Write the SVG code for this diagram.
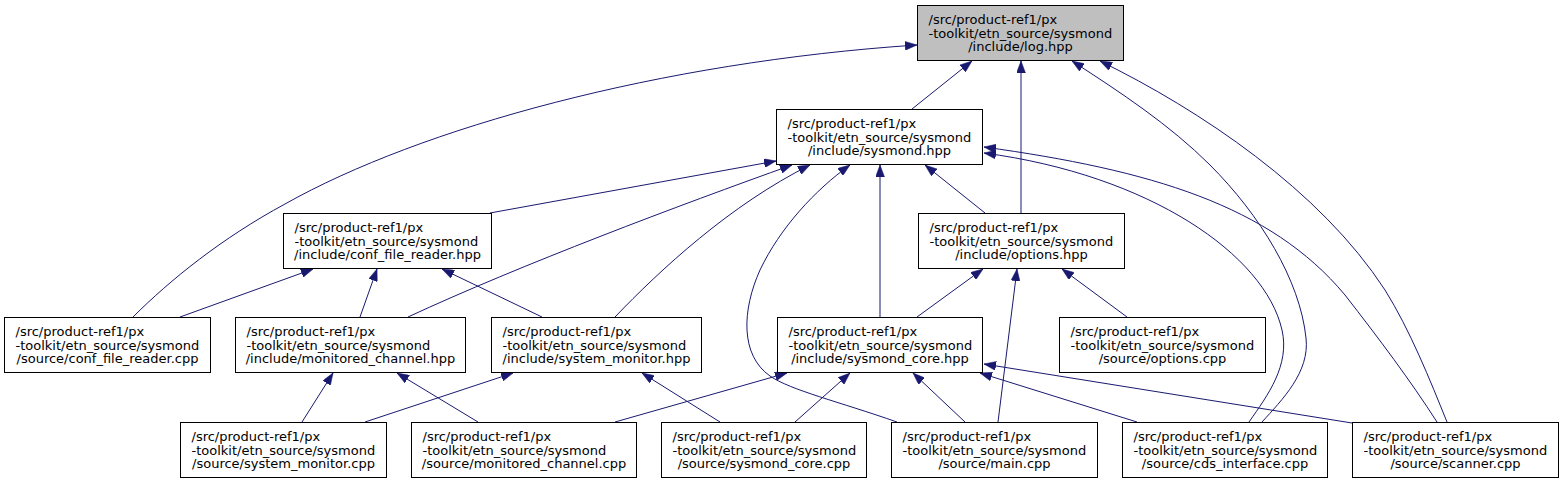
<svg xmlns="http://www.w3.org/2000/svg" width="1564" height="483" viewBox="0 0 1564 483">
<style>
  .node rect { fill: #ffffff; stroke: #000000; stroke-width: 1; }
  .node.root rect { fill: #bfbfbf; }
  .node text { font-family: "DejaVu Sans", "Liberation Sans", sans-serif; font-size: 13px; fill: #000000; }
  .edges path { fill: none; stroke: #191970; stroke-width: 1; marker-end: url(#arr); }
</style>
<defs>
  <marker id="arr" viewBox="0 0 12 9" refX="12" refY="4.5" markerWidth="12" markerHeight="9" markerUnits="userSpaceOnUse" orient="auto">
    <path d="M0,0 L12,4.5 L0,9 z" fill="#191970" stroke="#191970" stroke-width="0.5"/>
  </marker>
</defs>
<rect x="0" y="0" width="1564" height="483" fill="#ffffff"/>
<g class="edges">
  <path d="M133,317 C170,280 222,238 285,204 C420,128 660,62 917,45"/>
  <path d="M912,109 L972,61"/>
  <path d="M1021,213 L1021,61"/>
  <path d="M1262,422 C1282,400 1310,372 1306,338 C1300,280 1260,215 1210,165 C1170,125 1120,92 1072,61"/>
  <path d="M1447,422 C1430,380 1410,330 1385,290 C1320,190 1200,110 1100,61"/>
  <path d="M490,213 L776,161"/>
  <path d="M408,317 C520,265 680,205 792,165"/>
  <path d="M615,317 C660,270 730,205 810,165"/>
  <path d="M897,422 C840,402 790,390 770,376 C740,355 742,310 760,270 C780,228 815,190 850,165"/>
  <path d="M880,317 L880,165"/>
  <path d="M985,213 L925,165"/>
  <path d="M1249,422 C1268,395 1290,365 1282,330 C1265,255 1150,175 984,153"/>
  <path d="M1437,422 C1410,380 1380,340 1345,295 C1270,205 1150,170 984,147"/>
  <path d="M180,317 L313,269"/>
  <path d="M360,317 L377,269"/>
  <path d="M542,317 L442,269"/>
  <path d="M917,317 L983,269"/>
  <path d="M998,422 L1017,269"/>
  <path d="M1127,317 L1062,269"/>
  <path d="M302,422 L333,373"/>
  <path d="M478,422 L397,373"/>
  <path d="M365,422 L513,373"/>
  <path d="M720,422 L642,373"/>
  <path d="M615,422 L787,373"/>
  <path d="M795,422 L850,373"/>
  <path d="M965,422 L913,373"/>
  <path d="M1137,422 L980,373"/>
  <path d="M1352,423 L984,364"/>
</g>
<g id="node-log" class="node root">
  <rect x="917.5" y="5.5" width="206" height="55"/>
  <text><tspan x="928.5" y="24">/src/product-ref1/px</tspan><tspan x="928.5" y="37.5">-toolkit/etn_source/sysmond</tspan><tspan x="1020.5" y="51" text-anchor="middle">/include/log.hpp</tspan></text>
</g>
<g id="node-sysmond-hpp" class="node">
  <rect x="776.5" y="109.5" width="206" height="55"/>
  <text><tspan x="787.5" y="128">/src/product-ref1/px</tspan><tspan x="787.5" y="141.5">-toolkit/etn_source/sysmond</tspan><tspan x="879.5" y="155" text-anchor="middle">/include/sysmond.hpp</tspan></text>
</g>
<g id="node-conf-file-reader-hpp" class="node">
  <rect x="283.5" y="213.5" width="208" height="55"/>
  <text><tspan x="294.5" y="232">/src/product-ref1/px</tspan><tspan x="294.5" y="245.5">-toolkit/etn_source/sysmond</tspan><tspan x="387.5" y="259" text-anchor="middle">/include/conf_file_reader.hpp</tspan></text>
</g>
<g id="node-options-hpp" class="node">
  <rect x="918.5" y="213.5" width="206" height="55"/>
  <text><tspan x="929.5" y="232">/src/product-ref1/px</tspan><tspan x="929.5" y="245.5">-toolkit/etn_source/sysmond</tspan><tspan x="1021.5" y="259" text-anchor="middle">/include/options.hpp</tspan></text>
</g>
<g id="node-conf-file-reader-cpp" class="node">
  <rect x="4.5" y="317.5" width="206" height="55"/>
  <text><tspan x="15.5" y="336">/src/product-ref1/px</tspan><tspan x="15.5" y="349.5">-toolkit/etn_source/sysmond</tspan><tspan x="107.5" y="363" text-anchor="middle">/source/conf_file_reader.cpp</tspan></text>
</g>
<g id="node-monitored-channel-hpp" class="node">
  <rect x="235.5" y="317.5" width="230" height="55"/>
  <text><tspan x="246.5" y="336">/src/product-ref1/px</tspan><tspan x="246.5" y="349.5">-toolkit/etn_source/sysmond</tspan><tspan x="350.5" y="363" text-anchor="middle">/include/monitored_channel.hpp</tspan></text>
</g>
<g id="node-system-monitor-hpp" class="node">
  <rect x="491.5" y="317.5" width="210" height="55"/>
  <text><tspan x="502.5" y="336">/src/product-ref1/px</tspan><tspan x="502.5" y="349.5">-toolkit/etn_source/sysmond</tspan><tspan x="596.5" y="363" text-anchor="middle">/include/system_monitor.hpp</tspan></text>
</g>
<g id="node-sysmond-core-hpp" class="node">
  <rect x="777.5" y="317.5" width="205" height="55"/>
  <text><tspan x="788.5" y="336">/src/product-ref1/px</tspan><tspan x="788.5" y="349.5">-toolkit/etn_source/sysmond</tspan><tspan x="880" y="363" text-anchor="middle">/include/sysmond_core.hpp</tspan></text>
</g>
<g id="node-options-cpp" class="node">
  <rect x="1059.5" y="317.5" width="206" height="55"/>
  <text><tspan x="1070.5" y="336">/src/product-ref1/px</tspan><tspan x="1070.5" y="349.5">-toolkit/etn_source/sysmond</tspan><tspan x="1162.5" y="363" text-anchor="middle">/source/options.cpp</tspan></text>
</g>
<g id="node-system-monitor-cpp" class="node">
  <rect x="180.5" y="422.5" width="206" height="55"/>
  <text><tspan x="191.5" y="441">/src/product-ref1/px</tspan><tspan x="191.5" y="454.5">-toolkit/etn_source/sysmond</tspan><tspan x="283.5" y="468" text-anchor="middle">/source/system_monitor.cpp</tspan></text>
</g>
<g id="node-monitored-channel-cpp" class="node">
  <rect x="411.5" y="422.5" width="225" height="55"/>
  <text><tspan x="422.5" y="441">/src/product-ref1/px</tspan><tspan x="422.5" y="454.5">-toolkit/etn_source/sysmond</tspan><tspan x="524" y="468" text-anchor="middle">/source/monitored_channel.cpp</tspan></text>
</g>
<g id="node-sysmond-core-cpp" class="node">
  <rect x="661.5" y="422.5" width="205" height="55"/>
  <text><tspan x="672.5" y="441">/src/product-ref1/px</tspan><tspan x="672.5" y="454.5">-toolkit/etn_source/sysmond</tspan><tspan x="764" y="468" text-anchor="middle">/source/sysmond_core.cpp</tspan></text>
</g>
<g id="node-main-cpp" class="node">
  <rect x="891.5" y="422.5" width="206" height="55"/>
  <text><tspan x="902.5" y="441">/src/product-ref1/px</tspan><tspan x="902.5" y="454.5">-toolkit/etn_source/sysmond</tspan><tspan x="994.5" y="468" text-anchor="middle">/source/main.cpp</tspan></text>
</g>
<g id="node-cds-interface-cpp" class="node">
  <rect x="1122.5" y="422.5" width="205" height="55"/>
  <text><tspan x="1133.5" y="441">/src/product-ref1/px</tspan><tspan x="1133.5" y="454.5">-toolkit/etn_source/sysmond</tspan><tspan x="1225" y="468" text-anchor="middle">/source/cds_interface.cpp</tspan></text>
</g>
<g id="node-scanner-cpp" class="node">
  <rect x="1352.5" y="422.5" width="206" height="55"/>
  <text><tspan x="1363.5" y="441">/src/product-ref1/px</tspan><tspan x="1363.5" y="454.5">-toolkit/etn_source/sysmond</tspan><tspan x="1455.5" y="468" text-anchor="middle">/source/scanner.cpp</tspan></text>
</g>
</svg>
